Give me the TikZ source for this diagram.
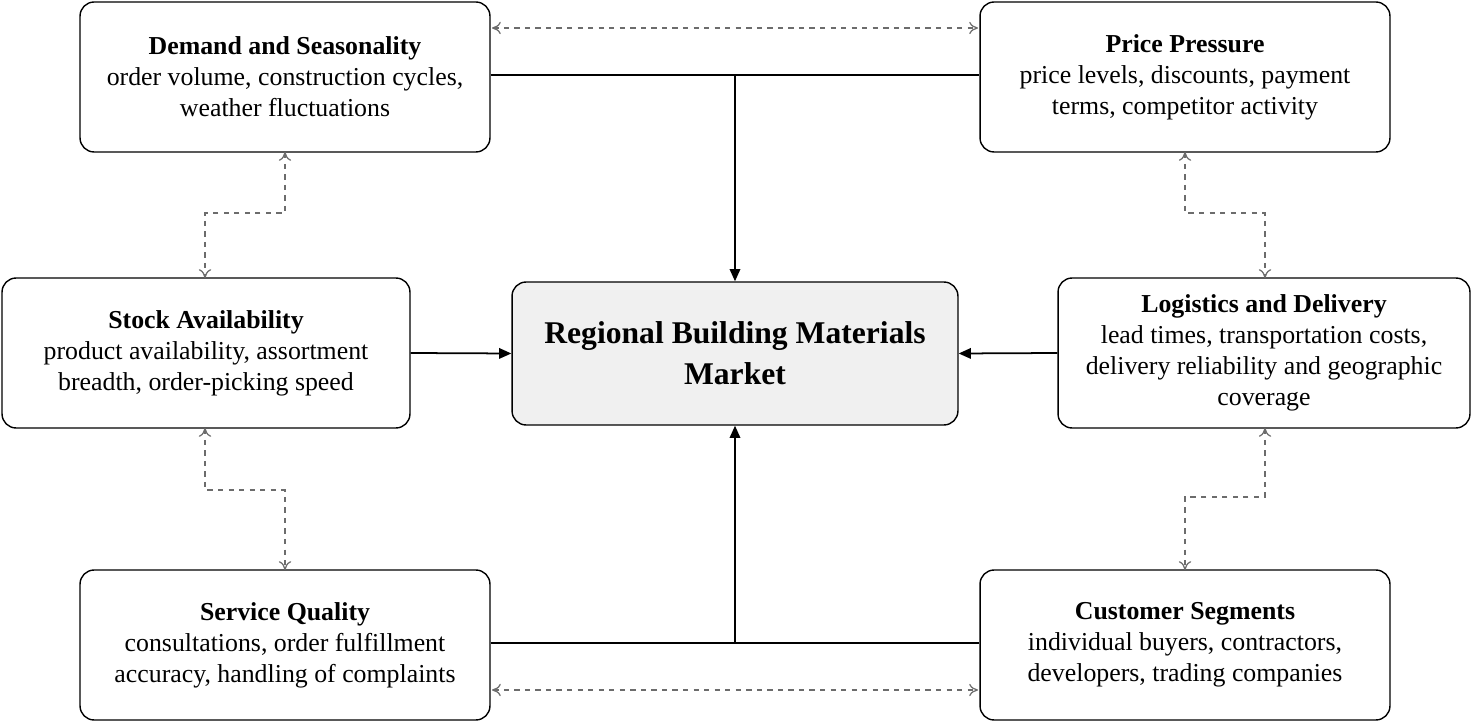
\documentclass[tikz,border=0pt]{standalone}
\usepackage{fontspec}
\setmainfont{Liberation Serif}
\usetikzlibrary{arrows.meta}
\begin{document}
\begin{tikzpicture}[x=0.02cm,y=-0.02cm,
  box/.style={draw,thick,rounded corners=8pt,minimum width=8.2cm,minimum height=3cm,align=center,font=\fontsize{14.7}{17.6}\selectfont,inner sep=2pt},
  main/.style={line width=1pt,-{Triangle[length=7pt,width=6pt]}},
  dlink/.style={draw=gray!85!black,dashed,line width=0.7pt,{To[length=5pt,width=7pt]}-{To[length=5pt,width=7pt]}}]
\useasboundingbox (0,0) rectangle (1472,722);
\node[box] (dem) at (285,77) {\textbf{Demand and Seasonality}\\order volume, construction cycles,\\weather fluctuations};
\node[box] (pri) at (1185,77) {\textbf{Price Pressure}\\price levels, discounts, payment\\terms, competitor activity};
\node[box,minimum width=8.16cm] (sto) at (206,353) {\textbf{Stock Availability}\\product availability, assortment\\breadth, order-picking speed};
\node[box,minimum width=8.24cm] (log) at (1264,353) {\textbf{Logistics and Delivery}\\lead times, transportation costs,\\delivery reliability and geographic\\coverage};
\node[box] (ser) at (285,645) {\textbf{Service Quality}\\consultations, order fulfillment\\accuracy, handling of complaints};
\node[box] (cus) at (1185,645) {\textbf{Customer Segments}\\individual buyers, contractors,\\developers, trading companies};
\node[box,fill=gray!12,minimum width=8.92cm,minimum height=2.86cm,font=\bfseries\fontsize{18}{23.2}\selectfont] (mkt) at (735,353.5) {Regional Building Materials\\Market};
\coordinate (top) at (735,75);
\coordinate (bot) at (735,643);
\draw[line width=1pt] (dem.east |- top) -- (pri.west |- top);
\draw[main] (top) -- (mkt.north);
\draw[line width=1pt] (ser.east |- bot) -- (cus.west |- bot);
\draw[main] (bot) -- (mkt.south);
\draw[main] (sto.east) -- (mkt.west);
\draw[main] (log.west) -- (mkt.east);
\draw[dlink] (492,28) -- (978,28);
\draw[dlink] (492,690) -- (978,690);
\draw[dlink] (285,152) -- (285,213) -- (205,213) -- (205,278);
\draw[dlink] (1185,152) -- (1185,213) -- (1265,213) -- (1265,278);
\draw[dlink] (205,428) -- (205,490) -- (285,490) -- (285,570);
\draw[dlink] (1265,428) -- (1265,497) -- (1185,497) -- (1185,570);
\end{tikzpicture}
\end{document}
